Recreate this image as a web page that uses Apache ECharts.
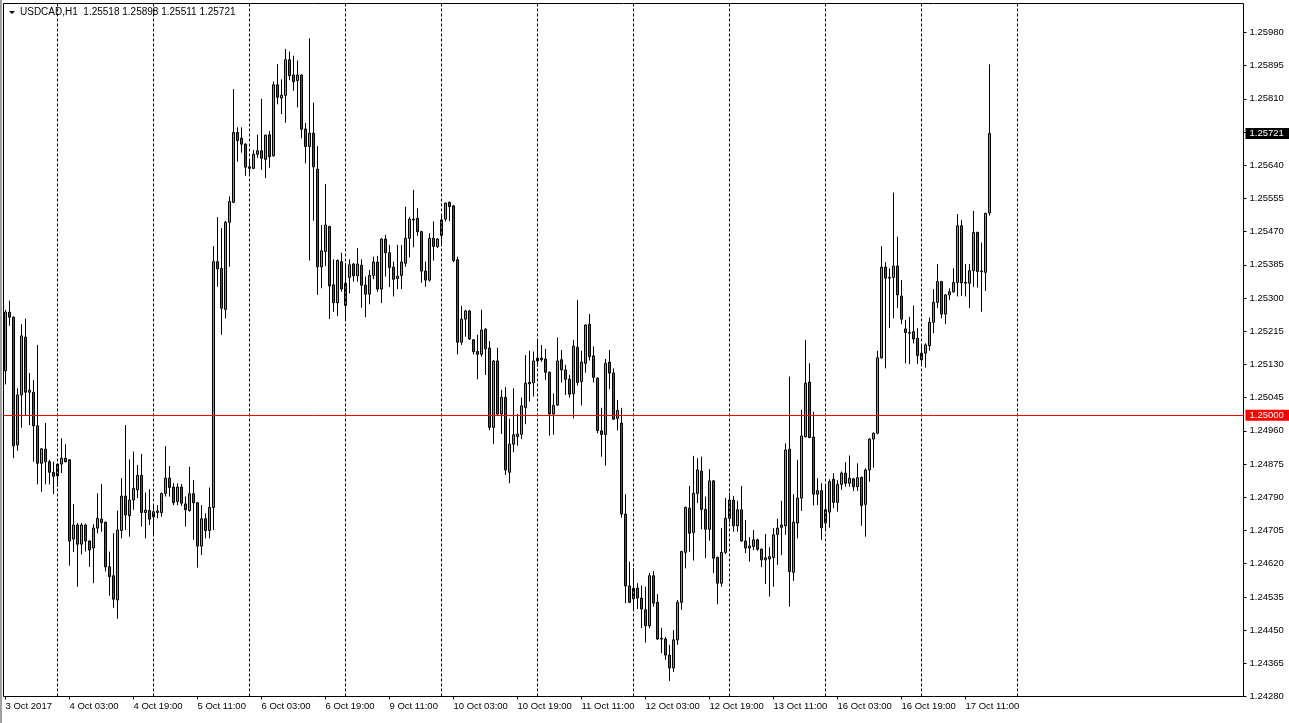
<!DOCTYPE html>
<html>
<head>
<meta charset="utf-8">
<script src="https://cdn.jsdelivr.net/npm/echarts/dist/echarts.min.js"></script>
<style>
html,body{margin:0;padding:0;background:#fff;}
#chart{width:1289px;height:723px;}
</style>
</head>
<body>
<div id="chart"></div>
<script>
// ---- data (USDCAD, H1) ----
const symbolName = 'USDCAD,H1';
const dayNames = ['3 Oct','4 Oct','5 Oct','6 Oct','9 Oct','10 Oct','11 Oct','12 Oct','13 Oct','16 Oct','17 Oct','18 Oct','19 Oct'];
const firstHour = 11;
const xTickLabels = ['3 Oct 2017','4 Oct 03:00','4 Oct 19:00','5 Oct 11:00','6 Oct 03:00','6 Oct 19:00','9 Oct 11:00','10 Oct 03:00','10 Oct 19:00','11 Oct 11:00','12 Oct 03:00','12 Oct 19:00','13 Oct 11:00','16 Oct 03:00','16 Oct 19:00','17 Oct 11:00'];
const levelLine = 1.25000;
const yMin = 1.24280, yMax = 1.26054, yStep = 0.00085;

const opens = [
1.25114,1.25264,1.25251,1.24924,1.25052,1.25200,1.25059,1.25059,1.24973,1.24877,
1.24913,1.24881,1.24854,1.24845,1.24875,1.24890,1.24886,1.24683,1.24719,1.24670,
1.24719,1.24678,1.24660,1.24711,1.24734,1.24726,1.24612,1.24589,1.24527,1.24705,
1.24793,1.24743,1.24783,1.24809,1.24846,1.24751,1.24756,1.24740,1.24751,1.24751,
1.24800,1.24839,1.24816,1.24779,1.24816,1.24773,1.24756,1.24799,1.24776,1.24665,
1.24735,1.24705,1.24764,1.25393,1.25376,1.25271,1.25494,1.25545,1.25724,1.25709,
1.25694,1.25636,1.25632,1.25668,1.25677,1.25655,1.25718,1.25664,1.25846,1.25812,
1.25819,1.25910,1.25871,1.25857,1.25871,1.25733,1.25688,1.25722,1.25630,1.25380,
1.25419,1.25483,1.25334,1.25288,1.25393,1.25281,1.25353,1.25387,1.25357,1.25384,
1.25333,1.25310,1.25358,1.25392,1.25323,1.25451,1.25416,1.25379,1.25350,1.25358,
1.25389,1.25453,1.25502,1.25504,1.25470,1.25369,1.25346,1.25453,1.25432,1.25460,
1.25502,1.25545,1.25536,1.25398,1.25187,1.25246,1.25267,1.25193,1.25163,1.25156,
1.25220,1.25172,1.24969,1.25139,1.25003,1.25046,1.24854,1.24926,1.24945,1.24951,
1.25020,1.25080,1.25083,1.25139,1.25146,1.25144,1.25110,1.25003,1.25026,1.25142,
1.25116,1.25092,1.25055,1.25174,1.25086,1.25133,1.25233,1.25152,1.25095,1.24960,
1.24951,1.25136,1.25108,1.24992,1.24980,1.24747,1.24563,1.24530,1.24557,1.24532,
1.24502,1.24461,1.24589,1.24521,1.24429,1.24427,1.24386,1.24353,1.24425,1.24521,
1.24649,1.24762,1.24700,1.24800,1.24857,1.24759,1.24708,1.24832,1.24636,1.24570,
1.24649,1.24736,1.24783,1.24717,1.24758,1.24678,1.24660,1.24664,1.24681,1.24657,
1.24630,1.24632,1.24636,1.24695,1.24713,1.24717,1.24913,1.24598,1.24724,1.24788,
1.24945,1.25085,1.24944,1.24798,1.24807,1.24724,1.24752,1.24836,1.24777,1.24823,
1.24852,1.24826,1.24837,1.24817,1.24841,1.24772,1.24860,1.24939,1.24954,1.25147,
1.25379,1.25353,1.25353,1.25382,1.25305,1.25221,1.25212,1.25214,1.25197,1.25142,
1.25159,1.25178,1.25238,1.25289,1.25342,1.25259,1.25308,1.25316,1.25340,1.25485,
1.25340,1.25338,1.25370,1.25468,1.25369,1.25366,1.25518
];
const highs = [
1.25270,1.25293,1.25253,1.25069,1.25233,1.25247,1.25108,1.25090,1.25180,1.24916,
1.24980,1.24886,1.24881,1.24876,1.24941,1.24926,1.24888,1.24773,1.24724,1.24724,
1.24722,1.24680,1.24721,1.24800,1.24824,1.24728,1.24651,1.24698,1.24756,1.24839,
1.24975,1.24887,1.24907,1.24873,1.24901,1.24802,1.24811,1.24770,1.24770,1.24802,
1.24921,1.24870,1.24826,1.24826,1.24824,1.24792,1.24868,1.24834,1.24778,1.24770,
1.24749,1.24815,1.25433,1.25507,1.25479,1.25497,1.25560,1.25835,1.25737,1.25737,
1.25696,1.25655,1.25679,1.25718,1.25810,1.25718,1.25728,1.25854,1.25899,1.25860,
1.25938,1.25931,1.25920,1.25908,1.25873,1.25748,1.25965,1.25800,1.25689,1.25487,
1.25592,1.25485,1.25399,1.25399,1.25416,1.25389,1.25399,1.25390,1.25428,1.25399,
1.25355,1.25372,1.25406,1.25408,1.25453,1.25462,1.25436,1.25393,1.25436,1.25436,
1.25534,1.25508,1.25577,1.25530,1.25472,1.25393,1.25466,1.25496,1.25453,1.25513,
1.25544,1.25547,1.25538,1.25406,1.25280,1.25270,1.25270,1.25195,1.25206,1.25270,
1.25223,1.25190,1.25141,1.25173,1.25065,1.25072,1.24991,1.25069,1.25003,1.25045,
1.25154,1.25165,1.25163,1.25195,1.25180,1.25170,1.25112,1.25056,1.25199,1.25167,
1.25129,1.25103,1.25193,1.25295,1.25165,1.25233,1.25259,1.25176,1.25097,1.25019,
1.25144,1.25167,1.25120,1.25039,1.25019,1.24798,1.24625,1.24608,1.24570,1.24564,
1.24561,1.24596,1.24601,1.24542,1.24456,1.24432,1.24412,1.24450,1.24527,1.24653,
1.24766,1.24819,1.24896,1.24890,1.24894,1.24792,1.24862,1.24834,1.24638,1.24711,
1.24788,1.24802,1.24793,1.24781,1.24819,1.24732,1.24688,1.24706,1.24684,1.24659,
1.24696,1.24662,1.24711,1.24735,1.24781,1.24928,1.25099,1.24798,1.24886,1.25014,
1.25193,1.25133,1.25009,1.24839,1.24826,1.24822,1.24836,1.24852,1.24834,1.24856,
1.24880,1.24897,1.24840,1.24877,1.24843,1.24864,1.24941,1.24956,1.25165,1.25433,
1.25392,1.25376,1.25570,1.25457,1.25346,1.25244,1.25252,1.25281,1.25223,1.25180,
1.25184,1.25250,1.25323,1.25387,1.25344,1.25310,1.25325,1.25376,1.25515,1.25500,
1.25387,1.25387,1.25523,1.25470,1.25442,1.25518,1.25898
];
const lows = [
1.25079,1.25229,1.24890,1.24909,1.24968,1.24999,1.24975,1.24881,1.24823,1.24804,
1.24823,1.24823,1.24798,1.24817,1.24852,1.24879,1.24615,1.24650,1.24561,1.24644,
1.24651,1.24612,1.24570,1.24698,1.24702,1.24600,1.24538,1.24507,1.24479,1.24685,
1.24706,1.24689,1.24758,1.24788,1.24715,1.24685,1.24719,1.24694,1.24736,1.24740,
1.24792,1.24792,1.24770,1.24770,1.24768,1.24715,1.24753,1.24681,1.24610,1.24642,
1.24685,1.24685,1.24706,1.25329,1.25206,1.25248,1.25380,1.25543,1.25649,1.25672,
1.25613,1.25618,1.25630,1.25659,1.25628,1.25607,1.25634,1.25662,1.25796,1.25771,
1.25749,1.25858,1.25831,1.25788,1.25709,1.25645,1.25396,1.25498,1.25308,1.25325,
1.25382,1.25246,1.25265,1.25254,1.25316,1.25246,1.25312,1.25342,1.25342,1.25275,
1.25251,1.25284,1.25348,1.25316,1.25287,1.25355,1.25328,1.25304,1.25323,1.25323,
1.25380,1.25404,1.25430,1.25459,1.25339,1.25329,1.25342,1.25396,1.25428,1.25434,
1.25496,1.25497,1.25392,1.25156,1.25180,1.25201,1.25193,1.25156,1.25092,1.25150,
1.25103,1.24962,1.24926,1.25001,1.24952,1.24847,1.24826,1.24905,1.24922,1.24939,
1.24977,1.25035,1.25048,1.25124,1.25137,1.25090,1.24948,1.24950,1.25024,1.25084,
1.25052,1.25045,1.24992,1.25076,1.25025,1.25109,1.25140,1.25084,1.24954,1.24894,
1.24871,1.25067,1.24988,1.24961,1.24738,1.24519,1.24519,1.24504,1.24504,1.24455,
1.24418,1.24455,1.24510,1.24425,1.24391,1.24374,1.24320,1.24343,1.24412,1.24502,
1.24608,1.24651,1.24628,1.24775,1.24708,1.24634,1.24679,1.24596,1.24516,1.24561,
1.24645,1.24725,1.24702,1.24702,1.24676,1.24647,1.24625,1.24655,1.24653,1.24611,
1.24568,1.24536,1.24561,1.24617,1.24642,1.24694,1.24510,1.24576,1.24685,1.24755,
1.24943,1.24941,1.24769,1.24770,1.24681,1.24705,1.24712,1.24762,1.24753,1.24809,
1.24817,1.24817,1.24806,1.24806,1.24717,1.24689,1.24830,1.24866,1.24951,1.25145,
1.25120,1.25223,1.25248,1.25274,1.25233,1.25133,1.25131,1.25184,1.25131,1.25126,
1.25122,1.25165,1.25210,1.25274,1.25248,1.25233,1.25295,1.25314,1.25304,1.25306,
1.25304,1.25274,1.25328,1.25327,1.25265,1.25318,1.25511
];
const closes = [
1.25264,1.25251,1.24922,1.25052,1.25203,1.25059,1.25064,1.24973,1.24877,1.24914,
1.24881,1.24854,1.24844,1.24875,1.24890,1.24881,1.24678,1.24719,1.24670,1.24719,
1.24678,1.24655,1.24711,1.24736,1.24725,1.24612,1.24587,1.24529,1.24706,1.24793,
1.24745,1.24783,1.24813,1.24846,1.24751,1.24757,1.24734,1.24753,1.24755,1.24800,
1.24839,1.24815,1.24776,1.24816,1.24775,1.24758,1.24799,1.24776,1.24665,1.24735,
1.24705,1.24764,1.25393,1.25375,1.25274,1.25494,1.25547,1.25724,1.25703,1.25694,
1.25635,1.25632,1.25668,1.25677,1.25658,1.25717,1.25662,1.25846,1.25814,1.25819,
1.25910,1.25869,1.25854,1.25871,1.25732,1.25688,1.25722,1.25636,1.25380,1.25421,
1.25487,1.25331,1.25288,1.25396,1.25323,1.25338,1.25385,1.25357,1.25387,1.25333,
1.25310,1.25358,1.25392,1.25323,1.25451,1.25416,1.25378,1.25348,1.25356,1.25392,
1.25453,1.25502,1.25500,1.25470,1.25369,1.25346,1.25453,1.25432,1.25451,1.25500,
1.25543,1.25534,1.25396,1.25187,1.25246,1.25267,1.25195,1.25163,1.25156,1.25218,
1.25170,1.24969,1.25139,1.25003,1.25046,1.24860,1.24926,1.24950,1.24952,1.25024,
1.25082,1.25084,1.25139,1.25146,1.25142,1.25110,1.25003,1.25025,1.25139,1.25116,
1.25092,1.25054,1.25177,1.25084,1.25136,1.25231,1.25150,1.25097,1.24961,1.24951,
1.25133,1.25108,1.24990,1.25012,1.24747,1.24563,1.24521,1.24557,1.24532,1.24504,
1.24461,1.24589,1.24519,1.24427,1.24427,1.24386,1.24353,1.24425,1.24521,1.24651,
1.24764,1.24698,1.24800,1.24860,1.24759,1.24708,1.24832,1.24634,1.24570,1.24649,
1.24736,1.24783,1.24717,1.24758,1.24678,1.24660,1.24665,1.24681,1.24657,1.24630,
1.24635,1.24638,1.24694,1.24711,1.24719,1.24911,1.24600,1.24726,1.24788,1.24947,
1.25082,1.24943,1.24798,1.24807,1.24712,1.24758,1.24830,1.24777,1.24823,1.24852,
1.24826,1.24839,1.24817,1.24840,1.24769,1.24860,1.24939,1.24954,1.25147,1.25379,
1.25351,1.25351,1.25382,1.25308,1.25246,1.25212,1.25210,1.25195,1.25153,1.25159,
1.25180,1.25238,1.25289,1.25342,1.25259,1.25308,1.25316,1.25340,1.25485,1.25339,
1.25338,1.25370,1.25468,1.25368,1.25367,1.25517,1.25721
];

// ---- build axis categories (hourly bars, weekend skipped) ----
const totalSlots = 310;
const categories = [];
const daySeparators = [];
(function () {
  let d = 0, h = firstHour;
  for (let i = 0; i < totalSlots; i++) {
    const name = dayNames[Math.min(d, dayNames.length - 1)] + ' ' + String(h).padStart(2, '0') + ':00' + (d >= dayNames.length ? '#' + i : '');
    categories.push(name);
    if (h === 0) daySeparators.push(i);
    h++;
    if (h === 24) { h = 0; d++; }
  }
})();
const lastIdx = opens.length - 1;
const separatorsShown = daySeparators.filter(i => i <= lastIdx + 24);

const candleData = opens.map((o, i) => [o, closes[i], lows[i], highs[i]]);

const FONT = 'Liberation Sans';
const chart = echarts.init(document.getElementById('chart'), null, { renderer: 'canvas' });

const markData = separatorsShown.map(i => ({
  xAxis: categories[i],
  lineStyle: { color: '#000', width: 1, type: [3, 2] },
  label: { show: false }
}));
markData.push({
  yAxis: levelLine,
  lineStyle: { color: '#ff0000', width: 1, type: 'solid' },
  label: {
    show: true, position: 'end', distance: 2,
    formatter: levelLine.toFixed(5),
    backgroundColor: '#ff0000', color: '#ffffff',
    fontFamily: FONT, fontSize: 9.5, padding: [1, 6, 0, 4]
  }
});

const titleText = symbolName + '  ' + [opens[lastIdx], highs[lastIdx], lows[lastIdx], closes[lastIdx]].map(v => v.toFixed(5)).join(' ');

chart.setOption({
  animation: false,
  backgroundColor: '#ffffff',
  grid: {
    left: 3.5, top: 3.5, width: 1240, height: 693,
    show: true, borderColor: '#000', borderWidth: 1, backgroundColor: '#ffffff'
  },
  xAxis: {
    type: 'category',
    data: categories,
    boundaryGap: true,
    axisLine: { show: false },
    axisTick: {
      show: true, length: 3, alignWithLabel: true,
      interval: (i) => i % 16 === 0 && i / 16 < xTickLabels.length,
      lineStyle: { color: '#000' }
    },
    axisLabel: {
      show: true,
      interval: (i) => i % 16 === 0 && i / 16 < xTickLabels.length,
      formatter: (v, i) => xTickLabels[i / 16] || '',
      align: 'left',
      margin: 5,
      color: '#000', fontFamily: FONT, fontSize: 9.5
    },
    splitLine: { show: false }
  },
  yAxis: {
    type: 'value',
    position: 'right',
    min: yMin, max: yMax, interval: yStep,
    axisLine: { show: false },
    axisTick: { show: true, length: 3, lineStyle: { color: '#000' } },
    axisLabel: {
      show: true, margin: 6, showMaxLabel: false,
      formatter: v => v.toFixed(5),
      color: '#000', fontFamily: FONT, fontSize: 9.5
    },
    splitLine: { show: false }
  },
  graphic: [
    { type: 'rect', left: 0, top: 0, shape: { width: 2, height: 723 }, style: { fill: '#a0a0a0' }, z: 100 },
    { type: 'polygon', shape: { points: [[9, 11], [15, 11], [12, 14]] }, style: { fill: '#000' }, z: 100 },
    { type: 'text', left: 20, top: 7, style: { text: titleText, fill: '#000', font: '10px "Liberation Sans"' }, z: 100 }
  ],
  series: [{
    type: 'candlestick',
    data: candleData,
    barWidth: 2,
    itemStyle: {
      color: '#32cd32', color0: '#d41c1c',
      borderColor: '#000000', borderColor0: '#000000', borderWidth: 1
    },
    markLine: {
      silent: true, symbol: ['none', 'none'], animation: false,
      precision: 5,
      data: markData
    }
  }, {
    // current-price tag on the price scale
    type: 'line',
    data: [],
    silent: true,
    markLine: {
      silent: true, symbol: ['none', 'none'], animation: false,
      precision: 5,
      lineStyle: { color: 'rgba(0,0,0,0)', width: 0 },
      label: {
        show: true, position: 'end', distance: 2,
        formatter: closes[lastIdx].toFixed(5),
        backgroundColor: '#000000', color: '#ffffff',
        fontFamily: FONT, fontSize: 9.5, padding: [1, 6, 0, 4]
      },
      data: [{ yAxis: closes[lastIdx] }]
    },
    z: 10
  }]
});
</script>
</body>
</html>
